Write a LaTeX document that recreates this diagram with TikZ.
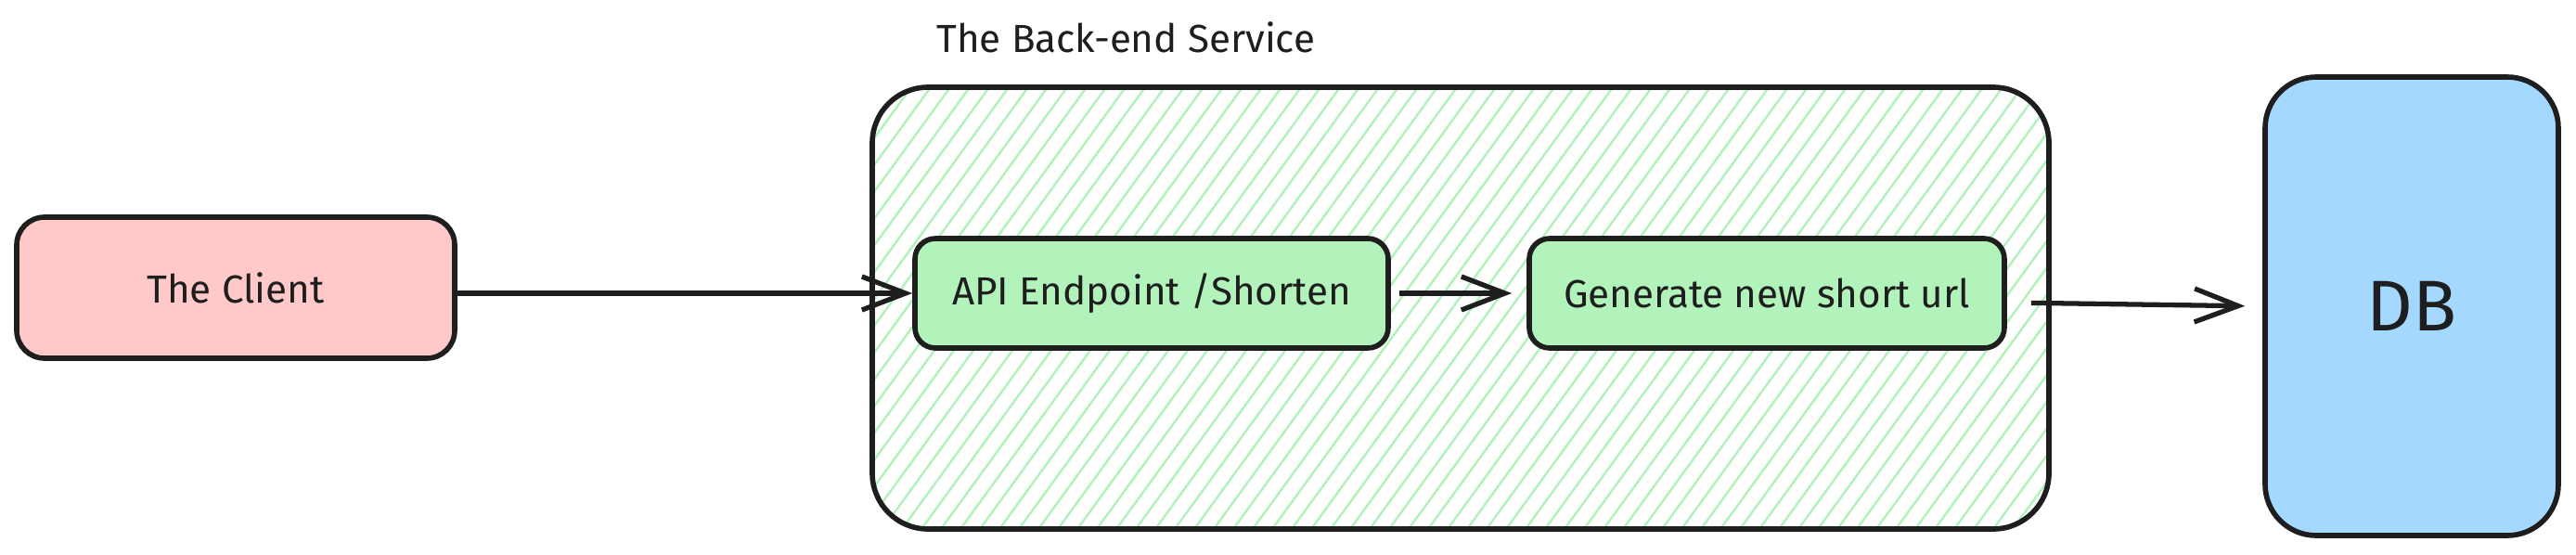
\documentclass[tikz,border=0pt]{standalone}
\usepackage{fontspec}
\setmainfont{Fira Sans}
\usetikzlibrary{arrows.meta}

\definecolor{ink}{HTML}{1E1E1E}
\definecolor{clientred}{HTML}{FFC9C9}
\definecolor{svcgreen}{HTML}{B2F2BB}
\definecolor{dbblue}{HTML}{A5D8FF}

\begin{document}
\begin{tikzpicture}[
  box/.style={draw=ink, line width=1.6pt, rounded corners=#1, text=ink,
    inner sep=0pt, font=\fontsize{12}{14}\selectfont},
  box/.default=2.2mm,
  link/.style={draw=ink, line width=1.5pt,
    -{Straight Barb[length=4.7mm,width=3.6mm,line width=1.5pt]}}
]
  \useasboundingbox (0,0) rectangle (27.76,5.97);

  % the client
  \node[box=3mm, fill=clientred, minimum width=4.72cm, minimum height=1.52cm]
    (client) at (2.54,2.87) {The Client};

  % back-end service frame with hachure fill
  \node[box=6mm, minimum width=12.68cm, minimum height=4.76cm,
    path picture={
      \foreach \k [evaluate=\k as \hx using \k*0.21-3.46] in {0,...,78}
        \draw[svcgreen, line width=0.7pt]
          (path picture bounding box.south west) ++(\hx,0) -- ++(3.46,4.76);
    }] (svc) at (15.74,2.65) {};
  \node[anchor=base west, text=ink, font=\fontsize{12}{14}\selectfont]
    (svctitle) at (9.97,5.40) {The Back-end Service};

  % steps inside the service
  \node[box, fill=svcgreen, minimum width=5.10cm, minimum height=1.18cm]
    (api) at (12.41,2.81) {API Endpoint /Shorten};
  \node[box, fill=svcgreen, minimum width=5.12cm, minimum height=1.18cm]
    (gen) at (19.04,2.81) {Generate new short url};

  % database
  \node[box=5.5mm, fill=dbblue, minimum width=3.16cm, minimum height=4.94cm,
    font=\fontsize{22}{26}\selectfont] (db) at (25.99,2.67) {DB};

  % connectors
  \draw[link, line width=1.9pt] (client.east |- api.west) -- (api.west);
  \draw[link, shorten <=0.9mm, shorten >=1.6mm] (api.east) -- (gen.west);
  \draw[link, shorten <=2.6mm, shorten >=1.9mm] ([yshift=-1mm]gen.east) -- (db.west);
\end{tikzpicture}
\end{document}
